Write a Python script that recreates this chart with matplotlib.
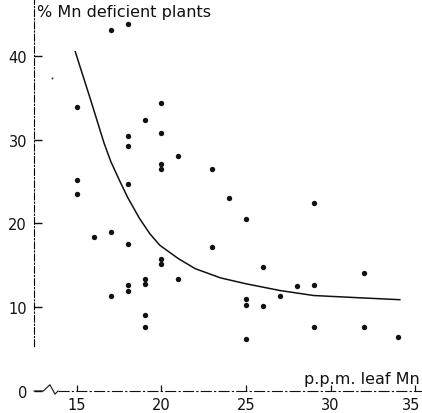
import matplotlib

matplotlib.use("Agg")
import matplotlib.pyplot as plt
from matplotlib.transforms import ScaledTranslation

# scatter: leaf Mn (p.p.m.) vs % Mn deficient plants
leaf_mn = [17, 18, 15, 20, 19, 18, 18, 20, 21, 20, 20, 23, 15, 15, 18,
           24, 29, 16, 17, 18, 20, 20, 19, 19, 18, 18, 17, 21, 23, 19, 19,
           25, 26, 32, 28, 29, 27, 25, 25, 26, 29, 32, 34, 25]
pct_deficient = [43.1, 43.8, 33.9, 34.4, 32.3, 30.4, 29.3, 30.8, 28.1, 27.1, 26.5,
                 26.5, 25.2, 23.5, 24.7, 23.0, 22.5, 18.4, 19.0, 17.5, 15.8, 15.2,
                 13.4, 12.8, 12.7, 11.9, 11.4, 13.4, 17.2, 9.1, 7.6, 20.5, 14.8,
                 14.1, 12.5, 12.7, 11.3, 11.0, 10.3, 10.2, 7.7, 7.6, 6.4, 6.2]

# fitted curve
curve_x = [14.9, 15.8, 16.6, 17.0, 17.5, 18.0, 18.7, 19.3, 19.9, 21.0, 22.0,
           23.5, 25.0, 27.0, 29.0, 31.0, 34.1]
curve_y = [40.5, 34.8, 29.6, 27.4, 25.2, 23.1, 20.6, 18.8, 17.4, 15.8, 14.6,
           13.5, 12.8, 12.0, 11.4, 11.2, 10.9]

# stray specks on the print
speck_x = [13.5]
speck_y = [37.4]

x_ticks = [15, 20, 25, 30, 35]
y_ticks = [0, 10, 20, 30, 40]

W, H = 422, 414
fig = plt.figure(figsize=(W / 100, H / 100), dpi=100)
ax = fig.add_axes([34 / W, 22 / H, 388 / W, 392 / H])

ax.plot(curve_x, curve_y, color="#111111", lw=1.1)
ax.scatter(leaf_mn, pct_deficient, s=15, color="#111111", zorder=3, linewidths=0)
ax.scatter(speck_x, speck_y, s=2, color="#333333", linewidths=0)

ax.set_xlim(12.456, 35.414)
ax.set_ylim(0, 46.8)
ax.set_xticks(x_ticks)
ax.set_yticks(y_ticks)
ax.tick_params(axis="both", direction="in", labelsize=10.5, color="#111111",
               labelcolor="#111111")
ax.tick_params(axis="y", length=6, width=1.0, pad=5)
ax.tick_params(axis="x", length=4, width=0.9, pad=4)

# last x label sits against the right edge, nudge it in a little
last = ax.get_xticklabels()[-1]
last.set_transform(last.get_transform() + ScaledTranslation(-3 / 72, 0, fig.dpi_scale_trans))

for side in ("top", "right", "bottom"):
    ax.spines[side].set_visible(False)
ax.spines["left"].set_bounds(5.4, 46.8)
ax.spines["left"].set_linestyle((0, (6, 2, 1, 2)))
ax.spines["left"].set_linewidth(0.8)

# broken bottom axis with zigzag
zx = [0.0, 0.024, 0.041, 0.054, 0.062]
zy = [0.0, 0.0, 0.016, -0.008, 0.0]
ax.plot(zx, zy, color="#111111", lw=0.8, transform=ax.transAxes, clip_on=False)
ax.plot([0.062, 1.0], [0.0, 0.0], color="#111111", lw=0.8,
        ls=(0, (10, 2, 2, 2)), transform=ax.transAxes, clip_on=False)

fig.text(37 / W, 1 - 13 / H, "% Mn deficient plants", fontsize=11.5,
         color="#111111", va="center", ha="left")
fig.text(420 / W, 1 - 380 / H, "p.p.m. leaf Mn", fontsize=11.5,
         color="#111111", va="center", ha="right")

fig.savefig("out.png", dpi=100)
